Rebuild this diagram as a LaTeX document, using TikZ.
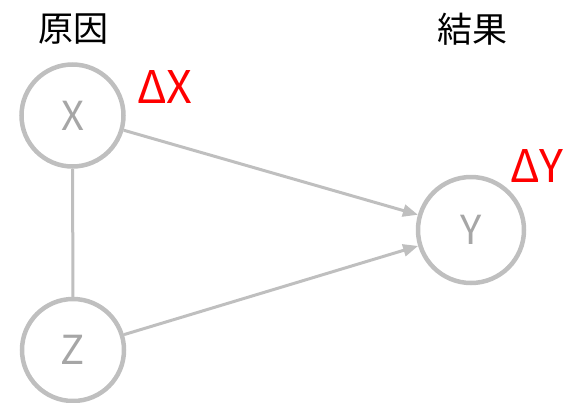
\documentclass[tikz,border=0pt]{standalone}
\usepackage{fontspec}
\setmainfont{Noto Sans CJK JP}
\usetikzlibrary{arrows.meta}
\definecolor{circ}{HTML}{BFBFBF}
\definecolor{lett}{HTML}{A6A6A6}
\begin{document}
\begin{tikzpicture}[x=1pt,y=-1pt,
  var/.style={circle,draw=circ,line width=4.5pt,minimum size=102pt,inner sep=0pt,text=lett,font=\fontsize{40}{40}\selectfont},
  lbl/.style={font=\fontsize{35}{35}\selectfont,text=black},
  delta/.style={font=\fontsize{45}{45}\selectfont,text=red},
  conn/.style={draw=circ,line width=3pt},
  arr/.style={conn,-{Triangle[length=15pt,width=12pt]}}]
\useasboundingbox (0,0) rectangle (570,402);
\node[var] (X) at (72.5,115.5) {X};
\node[var] (Z) at (73,350) {Z};
\node[var,minimum size=106pt] (Y) at (471,230) {Y};
\node[lbl] (c) at (73,29) {原因};
\node[lbl] (e) at (472,29) {結果};
\node[delta] (dx) at (165,87) {ΔX};
\node[delta] (dy) at (537,166) {ΔY};
\draw[conn] (X) -- (Z);
\draw[arr] (X) -- (Y);
\draw[arr] (Z) -- (Y);
\end{tikzpicture}
\end{document}
